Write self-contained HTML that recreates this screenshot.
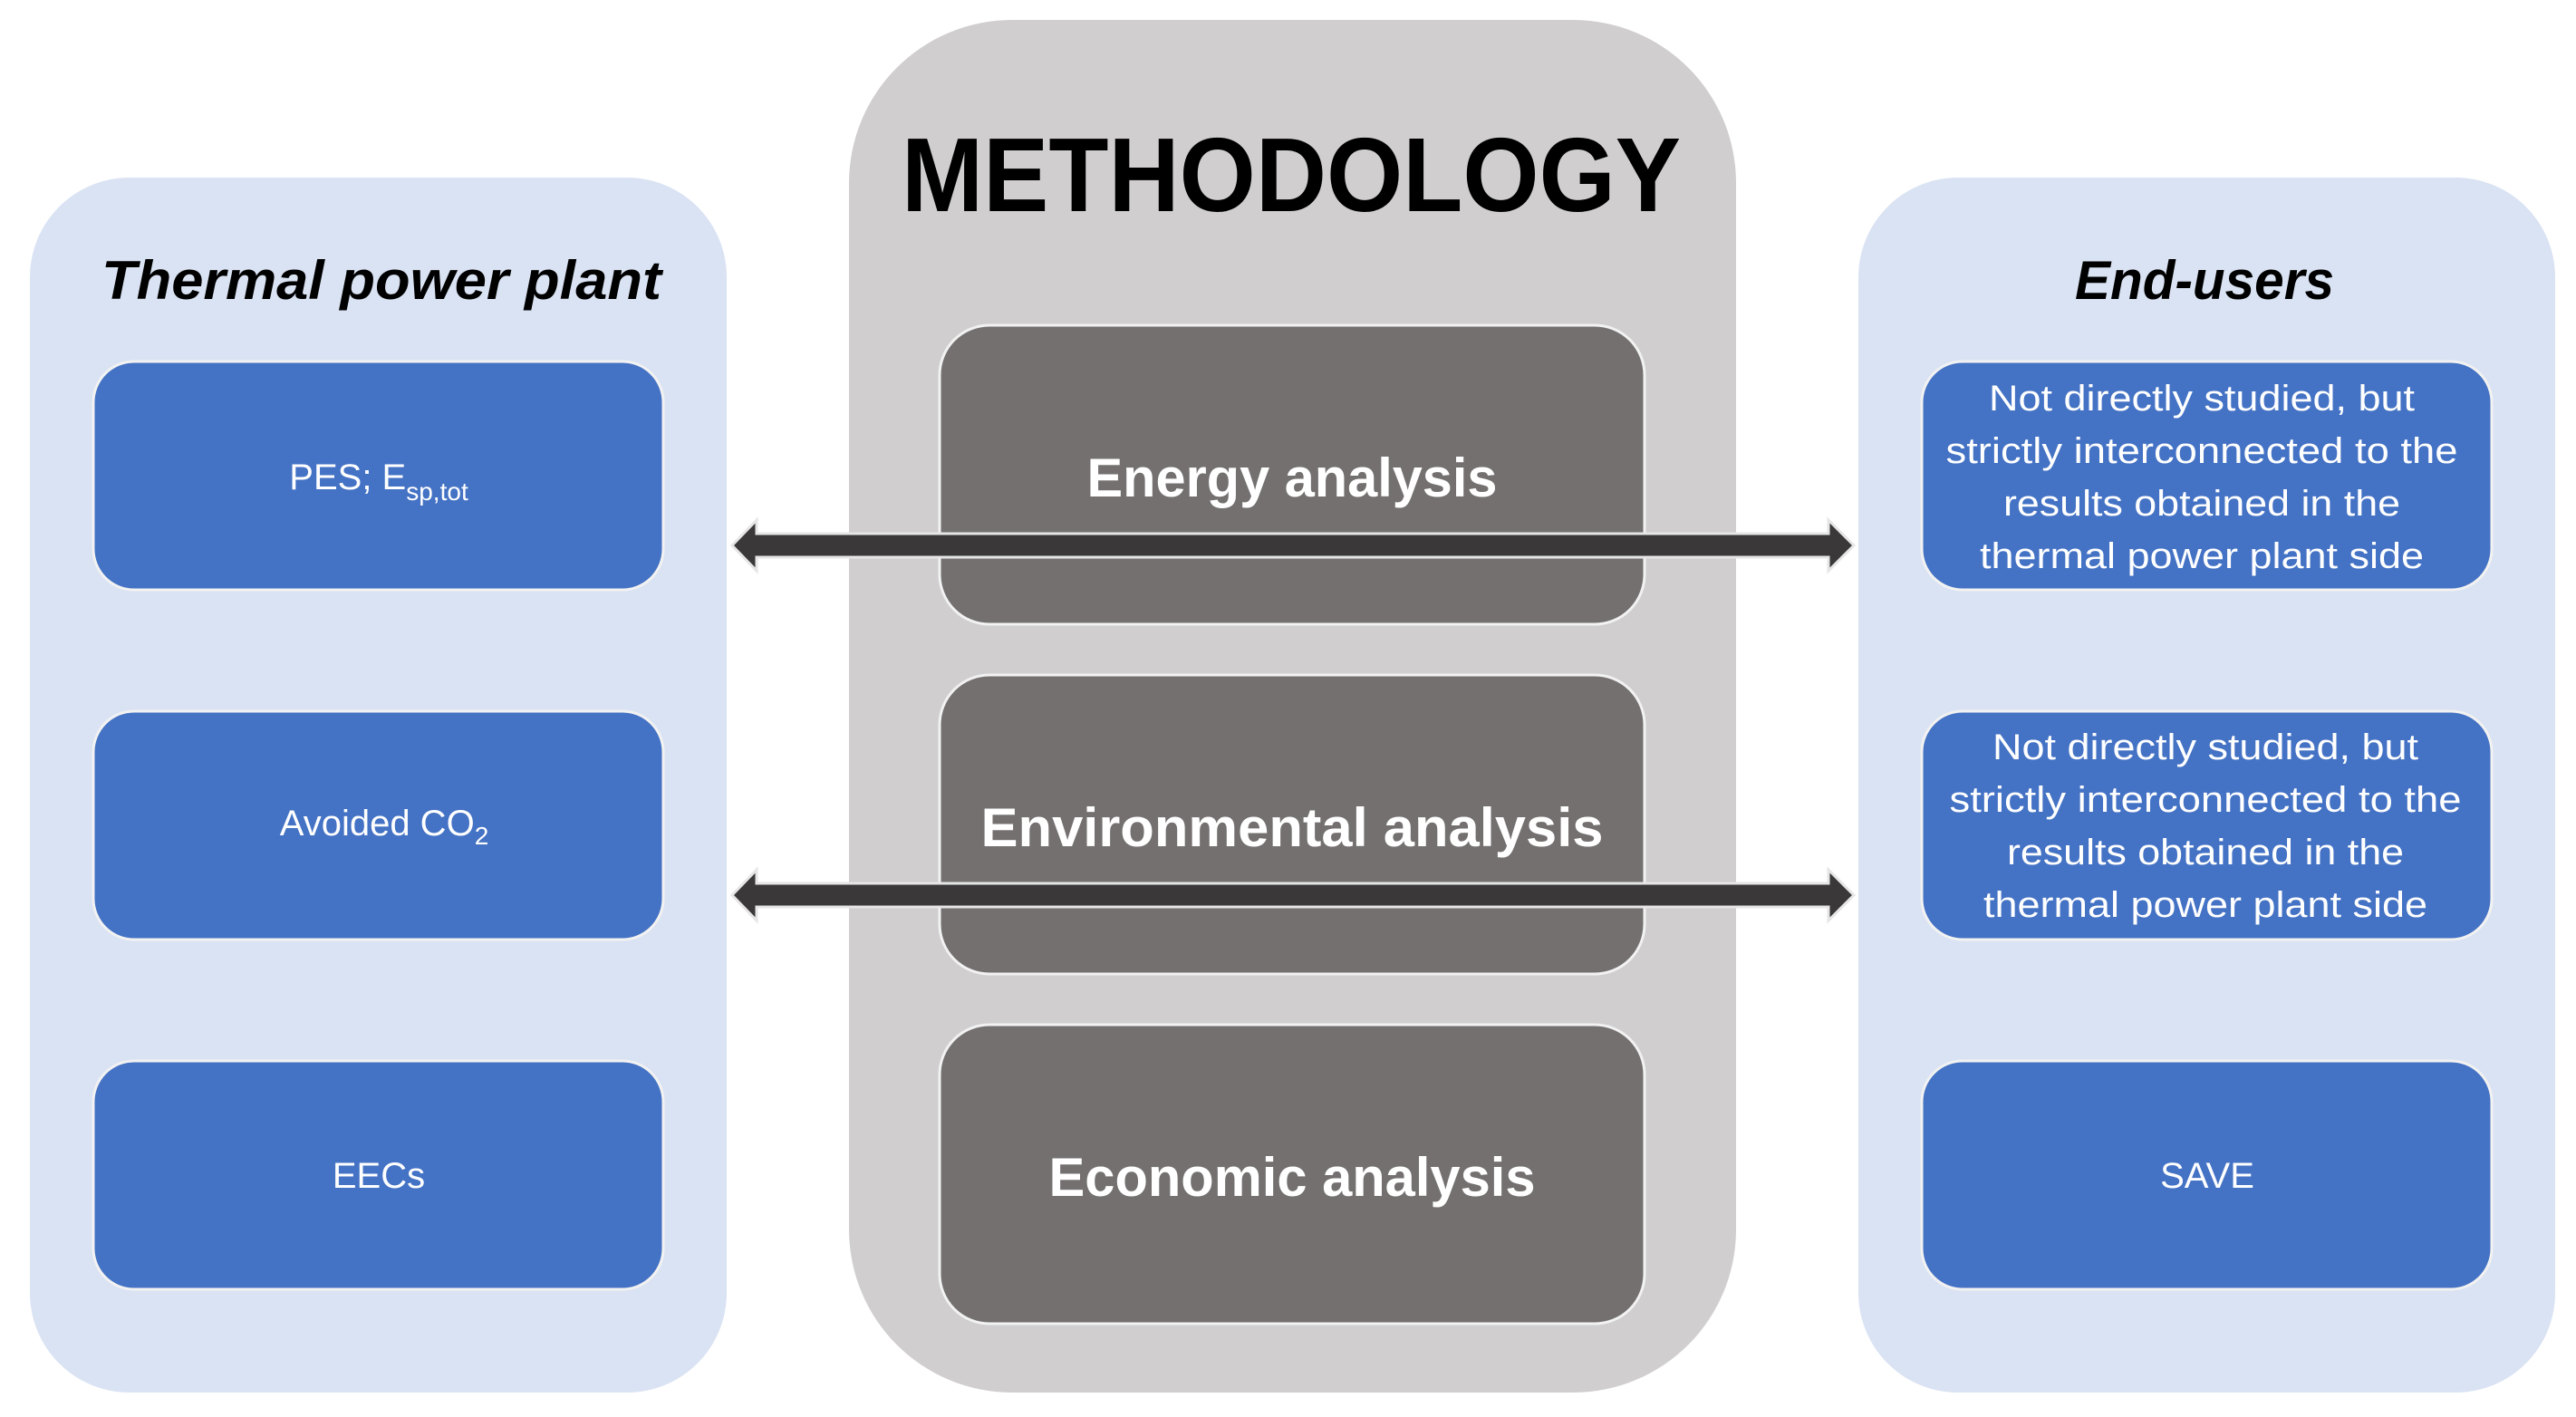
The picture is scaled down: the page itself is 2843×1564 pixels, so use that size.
<!DOCTYPE html>
<html><head><meta charset="utf-8"><style>
html,body{margin:0;padding:0;background:#fff;}
svg{display:block;}
</style></head><body>
<svg width="2843" height="1564" viewBox="0 0 2843 1564" xmlns="http://www.w3.org/2000/svg" font-family="'Liberation Sans', sans-serif">
<rect x="0" y="0" width="2843" height="1564" fill="#fff"/>
<!-- panels -->
<rect x="33" y="196" width="769" height="1341" rx="110" fill="#dae3f3"/>
<rect x="937" y="22" width="979" height="1515" rx="180" fill="#d0cece"/>
<rect x="2051" y="196" width="769" height="1341" rx="110" fill="#dae3f3"/>
<!-- titles -->
<text x="1425" y="233" font-size="116" font-weight="bold" text-anchor="middle" textLength="860" lengthAdjust="spacingAndGlyphs" fill="#000">METHODOLOGY</text>
<text x="421" y="330" font-size="60" font-weight="bold" font-style="italic" text-anchor="middle" textLength="618" lengthAdjust="spacingAndGlyphs" fill="#000">Thermal power plant</text>
<text x="2433" y="330" font-size="60" font-weight="bold" font-style="italic" text-anchor="middle" textLength="286" lengthAdjust="spacingAndGlyphs" fill="#000">End-users</text>
<!-- gray boxes -->
<g fill="#747070" stroke="#f2f2f2" stroke-width="3">
<rect x="1037" y="359" width="778" height="330" rx="55"/>
<rect x="1037" y="745" width="778" height="330" rx="55"/>
<rect x="1037" y="1131" width="778" height="330" rx="55"/>
</g>
<g fill="#fff" font-size="60" font-weight="bold" text-anchor="middle">
<text x="1426" y="548" textLength="453" lengthAdjust="spacingAndGlyphs">Energy analysis</text>
<text x="1426" y="934" textLength="687" lengthAdjust="spacingAndGlyphs">Environmental analysis</text>
<text x="1426" y="1320" textLength="537" lengthAdjust="spacingAndGlyphs">Economic analysis</text>
</g>
<!-- blue boxes -->
<g fill="#4472c4" stroke="#f2f2f2" stroke-width="3">
<rect x="103" y="399" width="629" height="252" rx="45"/>
<rect x="103" y="785" width="629" height="252" rx="45"/>
<rect x="103" y="1171" width="629" height="252" rx="45"/>
<rect x="2121" y="399" width="629" height="252" rx="45"/>
<rect x="2121" y="785" width="629" height="252" rx="45"/>
<rect x="2121" y="1171" width="629" height="252" rx="45"/>
</g>
<g fill="#fff" font-size="40" text-anchor="middle">
<text x="418" y="540">PES; E<tspan font-size="28" dy="12">sp,tot</tspan></text>
<text x="424" y="922">Avoided CO<tspan font-size="28" dy="10">2</tspan></text>
<text x="418" y="1311">EECs</text>
<text x="2436" y="1311">SAVE</text>
<text x="2430" y="453" textLength="470" lengthAdjust="spacingAndGlyphs">Not directly studied, but</text>
<text x="2430" y="511" textLength="565" lengthAdjust="spacingAndGlyphs">strictly interconnected to the</text>
<text x="2430" y="569" textLength="438" lengthAdjust="spacingAndGlyphs">results obtained in the</text>
<text x="2430" y="627" textLength="490" lengthAdjust="spacingAndGlyphs">thermal power plant side</text>
<text x="2434" y="838" textLength="470" lengthAdjust="spacingAndGlyphs">Not directly studied, but</text>
<text x="2434" y="896" textLength="565" lengthAdjust="spacingAndGlyphs">strictly interconnected to the</text>
<text x="2434" y="954" textLength="438" lengthAdjust="spacingAndGlyphs">results obtained in the</text>
<text x="2434" y="1012" textLength="490" lengthAdjust="spacingAndGlyphs">thermal power plant side</text>
</g>
<!-- arrows -->
<g fill="#3a3838" stroke="#e6e6e6" stroke-width="3" stroke-linejoin="miter">
<polygon points="808,602 835,574 835,589 2018,589 2018,574 2046,602 2018,630 2018,615 835,615 835,630"/>
<polygon points="808,988 835,960 835,975 2018,975 2018,960 2046,988 2018,1016 2018,1001 835,1001 835,1016"/>
</g>
</svg>
</body></html>
